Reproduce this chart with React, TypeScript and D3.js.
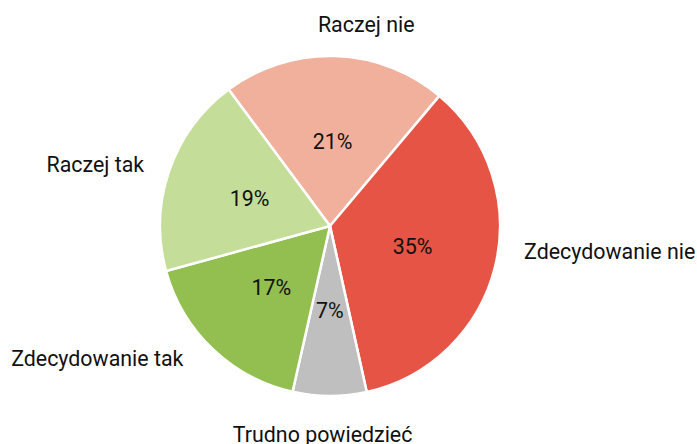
import React from "react";
import * as d3 from "d3";

const categories = ["Raczej nie", "Zdecydowanie nie", "Trudno powiedzieć", "Zdecydowanie tak", "Raczej tak"];
const values = [21.3, 35.4, 7.0, 17.2, 19.1];
const colors = ["#F1B09C", "#E55445", "#BFBFBF", "#93BE50", "#C4DE9A"];

const W = 697;
const H = 444;
const CX = 330;
const CY = 226;
const R = 170;
const LABEL_R = 205;
const START = (-36.6 * Math.PI) / 180;
const FS = 21.4;

// small layout nudges for the outer category labels (alphabetic baseline)
const nudge: Record<string, [number, number]> = {
  "Raczej nie": [30, 11],
  "Zdecydowanie nie": [-5, -16],
  "Trudno powiedzieć": [-7, 11],
  "Zdecydowanie tak": [-5, -8],
  "Raczej tak": [8, 13],
};

export default function App() {
  const data = categories.map((c, i) => ({ c, v: values[i], color: colors[i] }));
  const total = d3.sum(values);
  const pie = d3
    .pie<{ c: string; v: number; color: string }>()
    .value((d) => d.v)
    .sort(null)
    .startAngle(START)
    .endAngle(START + 2 * Math.PI);
  const arcs = pie(data);
  const arc = d3.arc<d3.PieArcDatum<any>>().innerRadius(0).outerRadius(R);
  const outer = d3.arc<d3.PieArcDatum<any>>().innerRadius(LABEL_R).outerRadius(LABEL_R);
  const font = "Roboto, 'Noto Sans', sans-serif";

  return (
    <svg
      width={W}
      height={H}
      style={{ position: "absolute", left: 0, top: 0, background: "#fff" }}
      fontFamily={font}
    >
      <g transform={`translate(${CX},${CY})`}>
        {arcs.map((a) => (
          <path key={a.data.c} d={arc(a) || ""} fill={a.data.color} stroke="#fff" strokeWidth={2.5} strokeLinejoin="round" />
        ))}
        {arcs.map((a) => {
          const [x, y] = arc.centroid(a);
          return (
            <text key={"p" + a.data.c} x={x} y={y} textAnchor="middle" dominantBaseline="central" fontSize={FS} fill="#111">
              {Math.round((a.data.v / total) * 100) + "%"}
            </text>
          );
        })}
        {arcs.map((a) => {
          const [x, y] = outer.centroid(a);
          const mid = (a.startAngle + a.endAngle) / 2;
          const s = Math.sin(mid);
          const anchor = Math.abs(s) < 0.35 ? "middle" : s > 0 ? "start" : "end";
          const [dx, dy] = nudge[a.data.c] || [0, 0];
          return (
            <text key={"l" + a.data.c} x={x + dx} y={y + dy} textAnchor={anchor} fontSize={FS} fill="#111">
              {a.data.c}
            </text>
          );
        })}
      </g>
    </svg>
  );
}
